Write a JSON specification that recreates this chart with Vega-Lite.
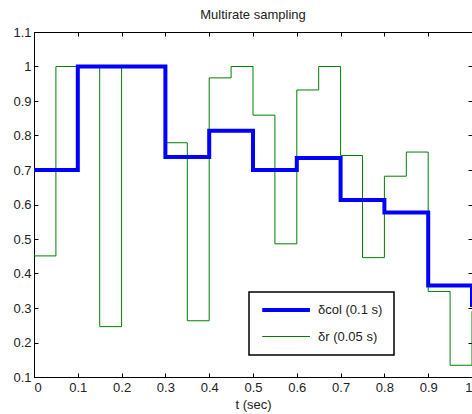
{
  "$schema": "https://vega.github.io/schema/vega-lite/v6.json",
  "width": 438,
  "height": 345,
  "autosize": {"type": "none"},
  "padding": {"left": 34, "top": 32, "right": 0, "bottom": 37},
  "background": "white",
  "title": {"text": "Multirate sampling", "fontSize": 13, "font": "Liberation Sans", "fontWeight": "normal", "color": "#222222", "offset": 4},
  "config": {
    "font": "Liberation Sans",
    "view": {"stroke": "black", "strokeWidth": 1},
    "axis": {
      "grid": false,
      "domainColor": "black",
      "domainWidth": 1,
      "tickColor": "black",
      "tickSize": -4,
      "labelFont": "Liberation Sans",
      "labelFontSize": 13,
      "labelColor": "#222222",
      "titleFont": "Liberation Sans",
      "titleFontSize": 13,
      "titleFontWeight": "normal",
      "titleColor": "#222222"
    },
    "legend": {
      "orient": "none", "legendX": 215, "legendY": 260, "title": null,
      "strokeColor": "black", "fillColor": "white", "padding": 11,
      "symbolType": "M-1,0H9", "symbolSize": 91, "labelFontSize": 13,
      "labelFont": "Liberation Sans", "labelColor": "#222222",
      "rowPadding": 12, "labelOffset": 44
    }
  },
  "data": {
    "values": [
      {"t": 0.0, "v": 0.70, "s": "δcol (0.1 s)"},
      {"t": 0.1, "v": 1.0, "s": "δcol (0.1 s)"},
      {"t": 0.2, "v": 1.0, "s": "δcol (0.1 s)"},
      {"t": 0.3, "v": 0.738, "s": "δcol (0.1 s)"},
      {"t": 0.4, "v": 0.814, "s": "δcol (0.1 s)"},
      {"t": 0.5, "v": 0.70, "s": "δcol (0.1 s)"},
      {"t": 0.6, "v": 0.735, "s": "δcol (0.1 s)"},
      {"t": 0.7, "v": 0.613, "s": "δcol (0.1 s)"},
      {"t": 0.8, "v": 0.577, "s": "δcol (0.1 s)"},
      {"t": 0.9, "v": 0.365, "s": "δcol (0.1 s)"},
      {"t": 1.0, "v": 0.303, "s": "δcol (0.1 s)"},
      {"t": 0.0, "v": 0.451, "s": "δr (0.05 s)"},
      {"t": 0.05, "v": 1.0, "s": "δr (0.05 s)"},
      {"t": 0.1, "v": 1.0, "s": "δr (0.05 s)"},
      {"t": 0.15, "v": 0.246, "s": "δr (0.05 s)"},
      {"t": 0.2, "v": 1.0, "s": "δr (0.05 s)"},
      {"t": 0.25, "v": 1.0, "s": "δr (0.05 s)"},
      {"t": 0.3, "v": 0.779, "s": "δr (0.05 s)"},
      {"t": 0.35, "v": 0.263, "s": "δr (0.05 s)"},
      {"t": 0.4, "v": 0.967, "s": "δr (0.05 s)"},
      {"t": 0.45, "v": 1.0, "s": "δr (0.05 s)"},
      {"t": 0.5, "v": 0.859, "s": "δr (0.05 s)"},
      {"t": 0.55, "v": 0.486, "s": "δr (0.05 s)"},
      {"t": 0.6, "v": 0.932, "s": "δr (0.05 s)"},
      {"t": 0.65, "v": 1.0, "s": "δr (0.05 s)"},
      {"t": 0.7, "v": 0.742, "s": "δr (0.05 s)"},
      {"t": 0.75, "v": 0.446, "s": "δr (0.05 s)"},
      {"t": 0.8, "v": 0.682, "s": "δr (0.05 s)"},
      {"t": 0.85, "v": 0.752, "s": "δr (0.05 s)"},
      {"t": 0.9, "v": 0.348, "s": "δr (0.05 s)"},
      {"t": 0.95, "v": 0.134, "s": "δr (0.05 s)"},
      {"t": 1.0, "v": 0.29, "s": "δr (0.05 s)"}
    ]
  },
  "encoding": {
    "x": {"field": "t", "type": "quantitative", "scale": {"domain": [0, 1], "nice": false, "zero": false}},
    "y": {"field": "v", "type": "quantitative", "scale": {"domain": [0.1, 1.1], "nice": false, "zero": false}},
    "color": {
      "field": "s", "type": "nominal",
      "scale": {"domain": ["δcol (0.1 s)", "δr (0.05 s)"], "range": ["#0000ff", "#008000"]},
      "legend": {"encode": {"legend": {"update": {"strokeWidth": {"value": 1.5}}}}}
    },
    "strokeWidth": {
      "field": "s", "type": "nominal",
      "scale": {"domain": ["δcol (0.1 s)", "δr (0.05 s)"], "range": [4, 1]},
      "legend": {"encode": {"legend": {"update": {"strokeWidth": {"value": 1.5}}}}}
    }
  },
  "layer": [
    {
      "transform": [{"filter": "datum.s === 'δr (0.05 s)'"}],
      "mark": {"type": "line", "interpolate": "step-after", "clip": true},
      "encoding": {
        "x": {"field": "t", "type": "quantitative", "axis": {"orient": "bottom", "title": "t (sec)", "values": [0, 0.1, 0.2, 0.3, 0.4, 0.5, 0.6, 0.7, 0.8, 0.9, 1], "format": "~g", "labelPadding": 8, "titlePadding": 4}},
        "y": {"field": "v", "type": "quantitative", "axis": {"orient": "left", "title": null, "values": [0.1, 0.2, 0.3, 0.4, 0.5, 0.6, 0.7, 0.8, 0.9, 1, 1.1], "format": "~g", "labelPadding": 7}}
      }
    },
    {
      "transform": [{"filter": "datum.s === 'δcol (0.1 s)'"}],
      "mark": {"type": "line", "interpolate": "step-after", "clip": true},
      "encoding": {
        "x": {"field": "t", "type": "quantitative", "axis": {"orient": "top", "title": null, "labels": false, "values": [0, 0.1, 0.2, 0.3, 0.4, 0.5, 0.6, 0.7, 0.8, 0.9, 1]}},
        "y": {"field": "v", "type": "quantitative", "axis": {"orient": "right", "title": null, "labels": false, "values": [0.1, 0.2, 0.3, 0.4, 0.5, 0.6, 0.7, 0.8, 0.9, 1, 1.1]}}
      }
    }
  ],
  "resolve": {"axis": {"x": "independent", "y": "independent"}}
}
